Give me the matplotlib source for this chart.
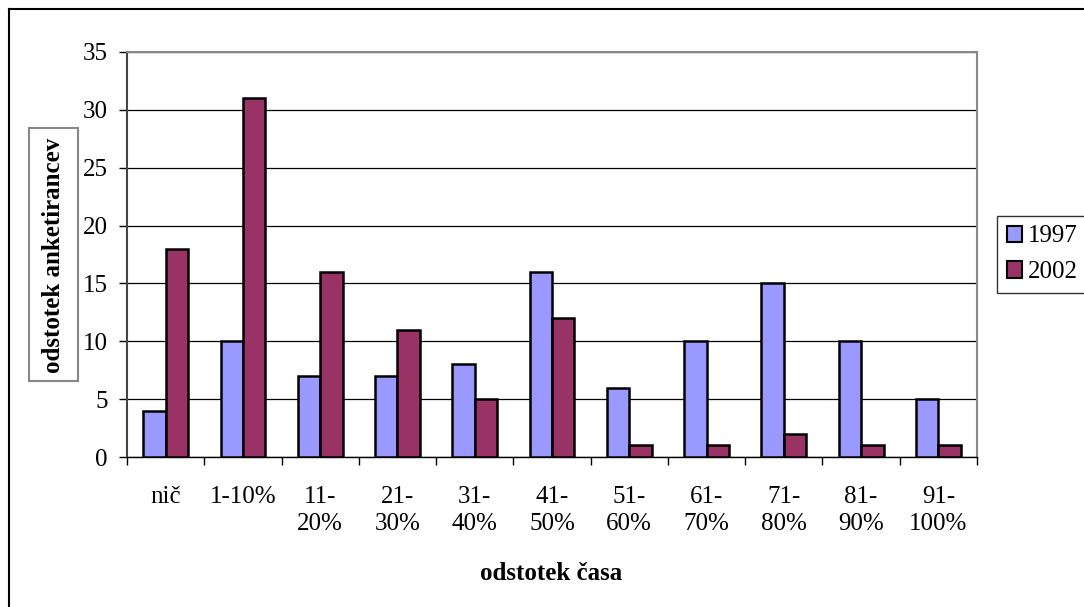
import matplotlib
matplotlib.use("Agg")
import matplotlib.pyplot as plt
import numpy as np
from matplotlib.patches import Rectangle
from matplotlib.lines import Line2D
from matplotlib.transforms import blended_transform_factory

plt.rcParams['font.family'] = ['Liberation Serif', 'DejaVu Serif']

categories = ["nič", "1-10%", "11-\n20%", "21-\n30%", "31-\n40%", "41-\n50%",
              "51-\n60%", "61-\n70%", "71-\n80%", "81-\n90%", "91-\n100%"]
vals_1997 = [4, 10, 7, 7, 8, 16, 6, 10, 15, 10, 5]
vals_2002 = [18, 31, 16, 11, 5, 12, 1, 1, 2, 1, 1]
series_names = ["1997", "2002"]
yticks = [0, 5, 10, 15, 20, 25, 30, 35]

W, H = 1084, 607
FS = 18
fig = plt.figure(figsize=(W / 100, H / 100), dpi=100)
ax = fig.add_axes([127 / W, 1 - 457 / H, 850 / W, 405 / H])

x = np.arange(len(categories))
bw = 0.29
ax.bar(x - bw / 2, vals_1997, bw, color="#9999FF", edgecolor="black", linewidth=1.8,
       label=series_names[0], zorder=3)
ax.bar(x + bw / 2, vals_2002, bw, color="#993366", edgecolor="black", linewidth=1.8,
       label=series_names[1], zorder=3)

ax.set_xlim(-0.5, len(categories) - 0.5)
ax.set_ylim(0, 35)
ax.set_yticks(yticks)
ax.set_yticklabels([str(v) for v in yticks], fontsize=FS)
ax.yaxis.grid(True, color="black", linewidth=0.9, zorder=0)
ax.tick_params(axis='y', direction='out', length=6, width=1, pad=8)

# x ticks at category boundaries; labels at centers
ax.set_xticks(np.arange(-0.5, len(categories), 1.0))
ax.set_xticklabels([])
ax.tick_params(axis='x', direction='out', length=6, width=1)
tr = blended_transform_factory(ax.transData, ax.transAxes)
for i, lab in enumerate(categories):
    ax.text(i, -29 / 405, lab, ha='center', va='top', fontsize=FS,
            transform=tr, linespacing=1.3)

for s in ['top', 'right']:
    ax.spines[s].set_color('#888888')
    ax.spines[s].set_linewidth(1.5)
ax.spines['left'].set_color('#444444')
ax.spines['left'].set_linewidth(1.5)
ax.spines['bottom'].set_color('black')
ax.spines['bottom'].set_linewidth(1.0)

# y label in a box
fig.add_artist(Rectangle((29 / W, 1 - 381 / H), 49 / W, 253 / H, transform=fig.transFigure,
                         facecolor='white', edgecolor='#888888', linewidth=1.5))
fig.text(54 / W, 1 - 255 / H, "odstotek anketirancev", rotation=90, ha='center',
         va='center', fontsize=FS, fontweight='bold')

fig.text(551 / W, 1 - 573 / H, "odstotek časa", ha='center', va='center',
         fontsize=FS, fontweight='bold')

# legend
handles = [Rectangle((0, 0), 1, 1, facecolor="#9999FF", edgecolor="black", linewidth=1.5),
           Rectangle((0, 0), 1, 1, facecolor="#993366", edgecolor="black", linewidth=1.5)]
leg = fig.legend(handles, series_names, loc='upper left',
                 bbox_to_anchor=(997 / W, 1 - 216 / H), fontsize=FS,
                 frameon=True, fancybox=False, handlelength=0.62, handleheight=0.62,
                 handletextpad=0.25, borderpad=0.38, labelspacing=0.55, borderaxespad=0)
leg.get_frame().set_edgecolor('black')
leg.get_frame().set_linewidth(1.0)

# outer border (left and top visible)
fig.add_artist(Line2D([9 / W, 9 / W], [0, 1 - 9 / H], color='black', linewidth=1.5,
                      transform=fig.transFigure))
fig.add_artist(Line2D([9 / W, 1], [1 - 9 / H, 1 - 9 / H], color='black', linewidth=1.5,
                      transform=fig.transFigure))

fig.savefig("out.png", dpi=100)
